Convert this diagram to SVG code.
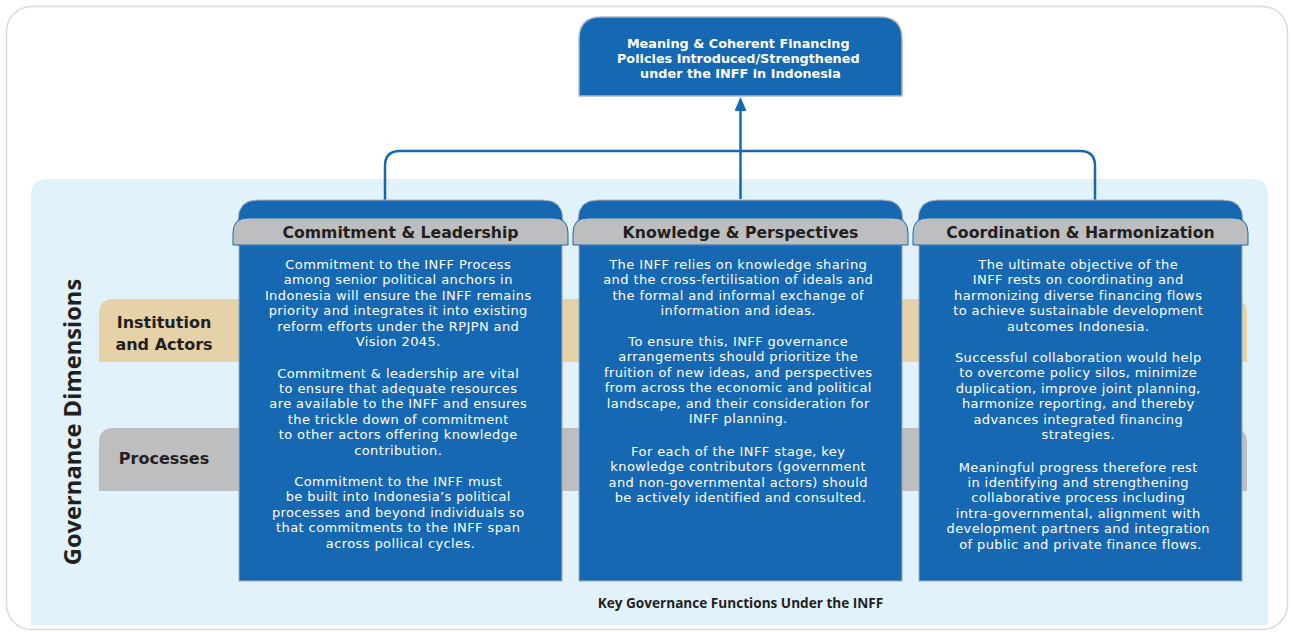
<svg xmlns="http://www.w3.org/2000/svg" width="1291" height="632" viewBox="0 0 1291 632">
<defs>
<marker id="arr" viewBox="0 0 14 12" refX="0" refY="6" markerWidth="14" markerHeight="12" markerUnits="userSpaceOnUse" orient="auto">
<path d="M0,0 L14,6 L0,12 Z" fill="#1668B2"/>
</marker>
<style>
.body{font-family:"DejaVu Sans","Liberation Sans",sans-serif;font-size:13px;letter-spacing:0.4px;fill:#ffffff;text-anchor:middle}
.hdr{font-family:"DejaVu Sans","Liberation Sans",sans-serif;font-size:15.7px;font-weight:700;fill:#231F20;text-anchor:middle}
.dim{font-family:"DejaVu Sans","Liberation Sans",sans-serif;font-size:16px;font-weight:700;fill:#231F20;text-anchor:middle}
.tab{fill:#1668B2;stroke:#B5B7BA;stroke-width:1}
.head{fill:#BCBEC0;stroke:#1668B2;stroke-width:1}
.box{fill:#1668B2;stroke:#A7A9AC;stroke-width:1}
.conn{fill:none;stroke:#1668B2;stroke-width:2.5}
</style>
</defs>
<rect x="6.5" y="6.5" width="1281" height="623" rx="25" fill="#ffffff" stroke="#DADADA" stroke-width="1.5"/>
<path d="M31,625 V195 Q31,179 47,179 H1252 Q1268,179 1268,195 V625 Z" fill="#E1F2FA"/>
<g id="band-institution">
<path d="M99,362 V314 Q99,299 114,299 H1232 Q1247,299 1247,314 V362 Z" fill="#E5D2A8"/>
<text class="dim" x="164" y="328">Institution</text>
<text class="dim" x="164" y="350">and Actors</text>
</g>
<g id="band-processes">
<path d="M99,491 V443 Q99,428 114,428 H1232 Q1247,428 1247,443 V491 Z" fill="#BDBEC0"/>
<text class="dim" x="164" y="464">Processes</text>
</g>
<text id="axis-label" transform="translate(80.5,422) rotate(-90)" font-family="'Open Sans','Liberation Sans',sans-serif" font-size="23.7" font-weight="700" fill="#231F20" text-anchor="middle">Governance Dimensions</text>
<g id="connectors">
<path class="conn" d="M385,200 V166 Q385,151 400,151 H1080 Q1095,151 1095,166 V200"/>
<path class="conn" d="M740.5,199 V111" marker-end="url(#arr)"/>
</g>
<g id="outcome">
<path d="M579,96 V39 Q579,17 601,17 H880 Q902,17 902,39 V96 Z" fill="#1668B2" stroke="#B5B7BA" stroke-width="1.5"/>
<text font-family="'DejaVu Sans','Liberation Sans',sans-serif" font-size="12.8" font-weight="700" fill="#ffffff" text-anchor="middle">
<tspan x="740.5" y="47.5">Meaning &amp; Coherent Financing</tspan>
<tspan x="740.5" y="62.5">Policies Introduced/Strengthened</tspan>
<tspan x="740.5" y="77.5">under the INFF in Indonesia</tspan>
</text>
</g>
<g id="col-commitment">
<path class="tab" d="M238,245 V220 Q238,200 258,200 H543 Q563,200 563,220 V245 Z"/>
<rect class="box" x="239" y="245" width="323" height="336"/>
<path class="head" d="M233,245 V233 Q233,218 248,218 H553 Q568,218 568,233 V245 Z"/>
<text class="hdr" x="400.5" y="237.5">Commitment &amp; Leadership</text>
<text class="body">
<tspan x="400.5" y="269">Commitment to the INFF Process</tspan>
<tspan x="400.5" y="284.4">among senior political anchors in</tspan>
<tspan x="400.5" y="299.8">Indonesia will ensure the INFF remains</tspan>
<tspan x="400.5" y="315.2">priority and integrates it into existing</tspan>
<tspan x="400.5" y="330.6">reform efforts under the RPJPN and</tspan>
<tspan x="400.5" y="346">Vision 2045.</tspan>
<tspan x="400.5" y="377.5">Commitment &amp; leadership are vital</tspan>
<tspan x="400.5" y="392.9">to ensure that adequate resources</tspan>
<tspan x="400.5" y="408.3">are available to the INFF and ensures</tspan>
<tspan x="400.5" y="423.7">the trickle down of commitment</tspan>
<tspan x="400.5" y="439.1">to other actors offering knowledge</tspan>
<tspan x="400.5" y="454.5">contribution.</tspan>
<tspan x="400.5" y="485.5">Commitment to the INFF must</tspan>
<tspan x="400.5" y="501">be built into Indonesia’s political</tspan>
<tspan x="400.5" y="516.5">processes and beyond individuals so</tspan>
<tspan x="400.5" y="532">that commitments to the INFF span</tspan>
<tspan x="400.5" y="547.5">across pollical cycles.</tspan>
</text>
</g>
<g id="col-knowledge">
<path class="tab" d="M578,245 V220 Q578,200 598,200 H883 Q903,200 903,220 V245 Z"/>
<rect class="box" x="579" y="245" width="323" height="336"/>
<path class="head" d="M573,245 V233 Q573,218 588,218 H893 Q908,218 908,233 V245 Z"/>
<text class="hdr" x="740.5" y="237.5">Knowledge &amp; Perspectives</text>
<text class="body">
<tspan x="740.5" y="268.5">The INFF relies on knowledge sharing</tspan>
<tspan x="740.5" y="284">and the cross-fertilisation of ideals and</tspan>
<tspan x="740.5" y="299.5">the formal and informal exchange of</tspan>
<tspan x="740.5" y="315">information and ideas.</tspan>
<tspan x="740.5" y="345.5">To ensure this, INFF governance</tspan>
<tspan x="740.5" y="361">arrangements should prioritize the</tspan>
<tspan x="740.5" y="376.5">fruition of new ideas, and perspectives</tspan>
<tspan x="740.5" y="392">from across the economic and political</tspan>
<tspan x="740.5" y="407.5">landscape, and their consideration for</tspan>
<tspan x="740.5" y="423">INFF planning.</tspan>
<tspan x="740.5" y="455.5">For each of the INFF stage, key</tspan>
<tspan x="740.5" y="471">knowledge contributors (government</tspan>
<tspan x="740.5" y="486.5">and non-governmental actors) should</tspan>
<tspan x="740.5" y="502">be actively identified and consulted.</tspan>
</text>
</g>
<g id="col-coordination">
<path class="tab" d="M918,245 V220 Q918,200 938,200 H1223 Q1243,200 1243,220 V245 Z"/>
<rect class="box" x="919" y="245" width="323" height="336"/>
<path class="head" d="M913,245 V233 Q913,218 928,218 H1233 Q1248,218 1248,233 V245 Z"/>
<text class="hdr" x="1080.5" y="237.5">Coordination &amp; Harmonization</text>
<text class="body">
<tspan x="1080.5" y="268.5">The ultimate objective of the</tspan>
<tspan x="1080.5" y="284">INFF rests on coordinating and</tspan>
<tspan x="1080.5" y="299.5">harmonizing diverse financing flows</tspan>
<tspan x="1080.5" y="315">to achieve sustainable development</tspan>
<tspan x="1080.5" y="330.5">autcomes Indonesia.</tspan>
<tspan x="1080.5" y="361.5">Successful collaboration would help</tspan>
<tspan x="1080.5" y="377">to overcome policy silos, minimize</tspan>
<tspan x="1080.5" y="392.5">duplication, improve joint planning,</tspan>
<tspan x="1080.5" y="408">harmonize reporting, and thereby</tspan>
<tspan x="1080.5" y="423.5">advances integrated financing</tspan>
<tspan x="1080.5" y="439">strategies.</tspan>
<tspan x="1080.5" y="471.5">Meaningful progress therefore rest</tspan>
<tspan x="1080.5" y="486.9">in identifying and strengthening</tspan>
<tspan x="1080.5" y="502.3">collaborative process including</tspan>
<tspan x="1080.5" y="517.7">intra-governmental, alignment with</tspan>
<tspan x="1080.5" y="533.1">development partners and integration</tspan>
<tspan x="1080.5" y="548.5">of public and private finance flows.</tspan>
</text>
</g>
<text id="footer" x="740.5" y="607.5" font-family="'Open Sans','Liberation Sans',sans-serif" font-size="13.6" font-weight="700" fill="#231F20" text-anchor="middle">Key Governance Functions Under the INFF</text>
</svg>
